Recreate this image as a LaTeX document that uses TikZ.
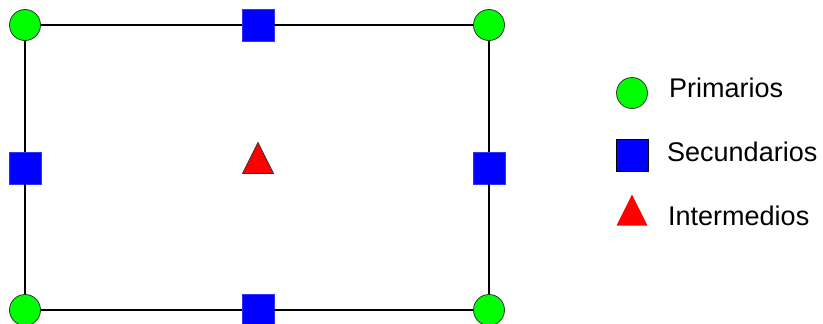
\documentclass[tikz,border=0pt]{standalone}
\usepackage{fontspec}
\setmainfont{Liberation Sans}
\usepackage{tikz}
\usetikzlibrary{
  shapes.geometric,%
  positioning
}
\definecolor{primgreen}{RGB}{0,255,0}
\definecolor{secblue}{RGB}{0,0,255}
\definecolor{intred}{RGB}{255,0,0}
\tikzset{
  primario/.style={circle, draw=black!80, line width=0.8pt, fill=primgreen,
    minimum size=31pt, inner sep=0pt},
  secundario/.style={rectangle, fill=secblue, draw=secblue!80, line width=0.6pt,
    minimum size=32pt, inner sep=0pt},
  intermedio/.style={isosceles triangle, isosceles triangle stretches,
    shape border rotate=90, fill=intred, minimum width=31pt, minimum height=31pt,
    inner sep=0pt},
  lado/.style={line width=2.8pt, black},
  leyenda/.style={anchor=west, inner sep=0pt, font=\fontsize{27}{31}\selectfont}
}

\begin{document}
\begin{tikzpicture}[x=1pt, y=-1pt]
          \useasboundingbox (0,0) rectangle (823,324);
          % corners
          \node[primario] (p1) at (25,25) {};
          \node[primario] (p2) at (489,25) {};
          \node[primario] (p3) at (25,310) {};
          \node[primario] (p4) at (489,310) {};
          % midpoints of the sides
          \node[secundario] (s1) at (258,25) {};
          \node[secundario] (s2) at (25,168) {};
          \node[secundario] (s3) at (489,168) {};
          \node[secundario] (s4) at (258,310) {};
          % centre
          \node[intermedio, draw=black!80, line width=0.8pt] (i1) at (258,164) {};
          \draw[lado] (p1) -- (s1) -- (p2) -- (s3) -- (p4) -- (s4) -- (p3) -- (s2) -- (p1);
          % legend
          \node[primario] (lp) at (632,93) {};
          \node[secundario, draw=black, line width=0.8pt] (ls) at (632,155) {};
          \node[intermedio] (li) at (632,216) {};
          \node[leyenda] (tp) at (669,88) {Primarios};
          \node[leyenda] (ts) at (667,152) {Secundarios};
          \node[leyenda] (ti) at (668,216) {Intermedios};
        \end{tikzpicture}
\end{document}
